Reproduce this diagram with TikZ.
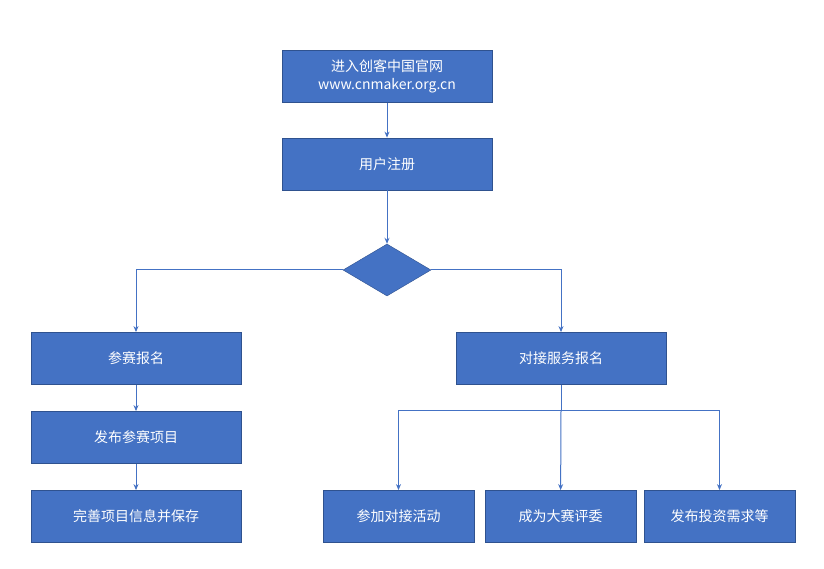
\documentclass[tikz,border=0pt]{standalone}
\usepackage{fontspec}
\setmainfont{Noto Sans CJK SC}
\usetikzlibrary{shapes.geometric,arrows.meta}
\definecolor{bx}{HTML}{4472C4}
\definecolor{bd}{HTML}{2F528F}
\begin{document}
\begin{tikzpicture}[x=1pt,y=-1pt,
  box/.style={draw=bd,line width=0.8pt,fill=bx,text=white,font=\fontsize{14}{18}\selectfont,align=center,minimum width=#1,minimum height=52pt,inner sep=0pt},
  box/.default=210pt,
  ln/.style={draw=bx,line width=1pt},
  ar/.style={ln,-{Stealth[length=6pt,width=5pt]}}]
\useasboundingbox[fill=white] (0,0) rectangle (824,569);
\node[box] (a) at (387,76.5) {进入创客中国官网\\www.cnmaker.org.cn};
\node[box] (b) at (387,164) {用户注册};
\node[diamond,draw=bd,fill=bx,minimum width=88pt,minimum height=52pt,inner sep=0pt,aspect=1.7] (d) at (387,270) {};
\node[box] (l1) at (136,358.5) {参赛报名};
\node[box] (l2) at (136,437.5) {发布参赛项目};
\node[box] (l3) at (136,516.5) {完善项目信息并保存};
\node[box] (r) at (561,358.5) {对接服务报名};
\node[box=151pt] (r1) at (398.5,516.5) {参加对接活动};
\node[box=151pt] (r2) at (560.5,516.5) {成为大赛评委};
\node[box=151pt] (r3) at (719.5,516.5) {发布投资需求等};
\coordinate (s) at (561,410);
\draw[ar] (a) -- (b);
\draw[ar] (b) -- (d);
\draw[ar] (d.west) -| (l1);
\draw[ar] (d.east) -| (r);
\draw[ar] (l1) -- (l2);
\draw[ar] (l2) -- (l3);
\draw[ln] (r.south) -- (s);
\draw[ar] (s) -| (r1);
\draw[ar] (s) -- (r2);
\draw[ar] (s) -| (r3);
\end{tikzpicture}
\end{document}
